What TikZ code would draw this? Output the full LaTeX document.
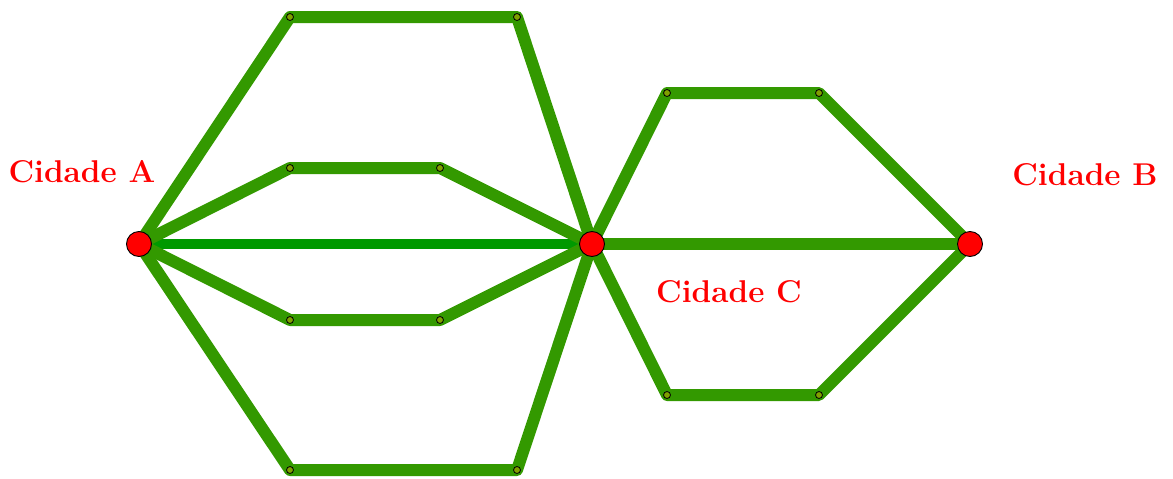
\documentclass[tikz,border=0pt]{standalone}
\usetikzlibrary{backgrounds}
\definecolor{road}{RGB}{51,153,0}
\definecolor{mainroad}{RGB}{0,153,0}
\definecolor{dotc}{RGB}{128,160,0}
\begin{document}
\begin{tikzpicture}[x=1pt,y=-1pt,
  city/.style={circle,draw=black,fill=red,line width=0.9pt,minimum size=25pt,inner sep=0pt},
  waypt/.style={circle,draw=black,fill=dotc,line width=0.8pt,minimum size=7pt,inner sep=0pt},
  roadline/.style={draw=road,line width=12pt,line join=round,line cap=round},
  mainline/.style={draw=mainroad,line width=10.5pt},
  lbl/.style={text=red,font=\fontsize{31.5}{38}\selectfont\bfseries}]
\useasboundingbox (0,0) rectangle (1173,479);
\node[city] (A) at (139,244) {};
\node[city] (C) at (592,244) {};
\node[city] (B) at (970,244) {};
\node[waypt] (t1) at (290,17) {};
\node[waypt] (t2) at (517,17) {};
\node[waypt] (u1) at (290,168) {};
\node[waypt] (u2) at (440,168) {};
\node[waypt] (l1) at (290,320) {};
\node[waypt] (l2) at (440,320) {};
\node[waypt] (b1) at (290,470) {};
\node[waypt] (b2) at (517,470) {};
\node[waypt] (r1) at (667,93) {};
\node[waypt] (r2) at (819,93) {};
\node[waypt] (s1) at (667,395) {};
\node[waypt] (s2) at (819,395) {};
\begin{pgfonlayer}{background}
\path[mainline] (A.center) -- (C.center);
\path[roadline] (A.center) -- (t1.center) -- (t2.center) -- (C.center);
\path[roadline] (A.center) -- (u1.center) -- (u2.center) -- (C.center);
\path[roadline] (A.center) -- (l1.center) -- (l2.center) -- (C.center);
\path[roadline] (A.center) -- (b1.center) -- (b2.center) -- (C.center);
\path[roadline] (C.center) -- (r1.center) -- (r2.center) -- (B.center);
\path[roadline] (C.center) -- (B.center);
\path[roadline] (C.center) -- (s1.center) -- (s2.center) -- (B.center);
\end{pgfonlayer}
\node[lbl] (la) at (82,172) {Cidade A};
\node[lbl] (lb) at (1085,175) {Cidade B};
\node[lbl] (lc) at (729,292) {Cidade C};
\end{tikzpicture}
\end{document}
